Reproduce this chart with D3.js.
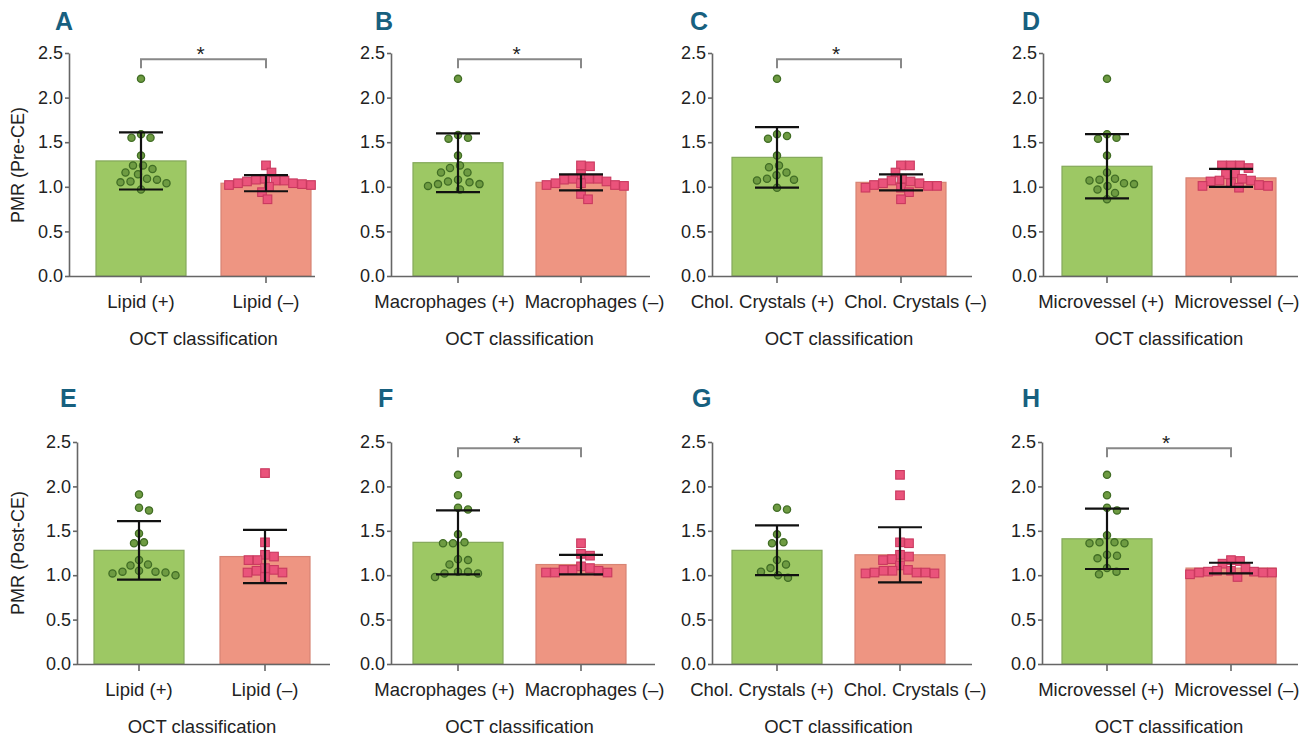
<!DOCTYPE html>
<html>
<head>
<meta charset="utf-8">
<script src="https://cdn.jsdelivr.net/npm/d3@7"></script>
<style>
  body { margin: 0; background: #fff; }
  svg { display: block; font-family: "Liberation Sans", Arial, Helvetica, sans-serif; }
</style>
</head>
<body>
<svg id="chart" width="1301" height="736"></svg>
<script>
// panel data, order A..H
var letters = ["A", "B", "C", "D", "E", "F", "G", "H"];
var groups = ["Lipid", "Macrophages", "Chol. Crystals", "Microvessel",
              "Lipid", "Macrophages", "Chol. Crystals", "Microvessel"];
var yTitles = ["PMR (Pre-CE)", "PMR (Post-CE)"];
var yTicks = [0, 0.5, 1.0, 1.5, 2.0, 2.5];
var signif = [true, true, true, false, false, true, false, true];

var meanPos = [1.29, 1.27, 1.33, 1.23, 1.28, 1.37, 1.28, 1.41];
var sdPos   = [0.32, 0.33, 0.34, 0.36, 0.33, 0.36, 0.28, 0.34];
var meanNeg = [1.04, 1.05, 1.05, 1.10, 1.21, 1.12, 1.23, 1.08];
var sdNeg   = [0.09, 0.09, 0.09, 0.10, 0.30, 0.11, 0.31, 0.06];

var ptsPos = [
  [2.21, 1.55, 1.55, 1.59, 1.35, 1.24, 1.20, 1.24, 1.16, 1.14, 1.08, 1.05, 1.04, 1.06, 1.09, 0.97],
  [2.21, 1.55, 1.54, 1.58, 1.35, 1.24, 1.16, 1.16, 1.21, 1.08, 1.05, 1.03, 0.97, 1.01, 1.03, 1.06],
  [2.21, 1.57, 1.54, 1.59, 1.35, 1.22, 1.24, 1.13, 1.16, 1.07, 0.99, 1.08, 1.09],
  [2.21, 1.59, 1.54, 1.55, 1.35, 1.16, 1.09, 1.07, 1.03, 1.01, 1.04, 1.08, 0.97, 0.93, 0.86],
  [1.91, 1.76, 1.73, 1.47, 1.36, 1.37, 1.17, 1.11, 1.12, 1.04, 1.03, 1.00, 1.02, 1.04, 1.05],
  [2.13, 1.90, 1.76, 1.74, 1.46, 1.37, 1.36, 1.36, 1.17, 1.12, 1.18, 1.04, 1.02, 0.98, 1.02, 1.04],
  [1.76, 1.74, 1.46, 1.36, 1.37, 1.17, 1.12, 1.08, 1.04, 0.97, 1.00],
  [2.13, 1.90, 1.76, 1.73, 1.45, 1.37, 1.36, 1.36, 1.37, 1.22, 1.19, 1.23, 1.08, 1.01, 1.04]
];
var ptsNeg = [
  [1.09, 1.08, 1.04, 1.02, 1.16, 1.24, 1.04, 1.02, 1.03, 1.06, 1.07, 1.07, 0.86, 0.94, 1.00],
  [1.14, 1.09, 1.08, 1.04, 1.23, 1.24, 1.02, 1.04, 1.02, 0.86, 0.92, 1.06, 1.09, 1.09, 1.01],
  [1.06, 1.04, 1.24, 1.24, 1.16, 1.01, 0.99, 0.99, 1.01, 0.86, 0.94, 1.04, 1.07, 1.09, 1.02],
  [1.24, 1.21, 1.24, 1.24, 1.15, 1.09, 1.07, 1.02, 1.01, 0.99, 1.01, 1.04, 1.06, 1.07, 1.14],
  [2.15, 1.37, 1.23, 1.17, 1.17, 1.21, 1.06, 1.03, 0.98, 1.03, 1.05, 1.08],
  [1.36, 1.22, 1.24, 1.08, 1.06, 1.03, 1.03, 1.03, 1.05, 1.06, 1.10],
  [2.13, 1.90, 1.36, 1.37, 1.23, 1.18, 1.17, 1.21, 1.11, 1.06, 1.03, 1.02, 1.02, 1.03, 1.03, 1.05, 1.05],
  [1.16, 1.17, 1.13, 1.05, 1.04, 1.03, 1.01, 0.98, 1.03, 1.03, 1.04, 1.05, 1.08]
];

// layout of each panel (y axis x, the two category centres, end of x axis)
var axisX   = [69, 391, 712, 1043, 77, 391, 712, 1042];
var cPos    = [141, 458, 777, 1107, 139, 458, 777, 1107];
var cNeg    = [266, 581, 901, 1231, 265, 581, 900, 1231];
var axisEnd = [315, 650, 972, 1298, 330, 655, 972, 1298];
var letterX = [55, 375, 690, 1022, 60, 378, 692, 1022];
var rowTop  = [53, 442];
var rowBase = [276, 664];

var svg = d3.select("#chart");

// simple beeswarm: place each point as close to the centre as it can go
function swarm(vals, y, cx, d) {
  var placed = [];
  var order = vals.map(function(v, i) { return {v: v, i: i}; })
    .sort(function(a, b) { return b.v - a.v; });
  order.forEach(function(p) {
    var py = y(p.v), off = 0;
    for (var k = 0; k < 400; k++) {
      off = Math.ceil(k / 2) * 0.5 * (k % 2 ? 1 : -1);
      var ok = placed.every(function(q) {
        var dx = q.x - (cx + off), dy = q.y - py;
        return dx * dx + dy * dy >= d * d;
      });
      if (ok) break;
    }
    placed.push({x: cx + off, y: py, v: p.v});
  });
  return placed;
}

letters.forEach(function(L, i) {
  var row = i < 4 ? 0 : 1;
  var y0 = rowBase[row];
  var step = cNeg[i] - cPos[i];
  var pad = 1 - 90 / step;
  var cats = [groups[i] + " (+)", groups[i] + " (\u2013)"];

  var x = d3.scaleBand()
    .domain(cats)
    .range([cPos[i] - step / 2, cNeg[i] + step / 2])
    .paddingInner(pad)
    .paddingOuter(pad / 2);
  var y = d3.scaleLinear().domain([0, 2.5]).range([y0, rowTop[row]]);

  var g = svg.append("g");

  // bars
  var bars = [
    {cat: cats[0], mean: meanPos[i], sd: sdPos[i], fill: "#9dc864", stroke: "#84a85a"},
    {cat: cats[1], mean: meanNeg[i], sd: sdNeg[i], fill: "#ee9582", stroke: "#d88474"}
  ];
  g.selectAll(".bar").data(bars).enter().append("rect")
    .attr("x", function(d) { return x(d.cat); })
    .attr("y", function(d) { return y(d.mean); })
    .attr("width", x.bandwidth())
    .attr("height", function(d) { return y0 - y(d.mean); })
    .attr("fill", function(d) { return d.fill; })
    .attr("stroke", function(d) { return d.stroke; })
    .attr("stroke-width", 1.2);

  // points
  var cx0 = x(cats[0]) + x.bandwidth() / 2, cx1 = x(cats[1]) + x.bandwidth() / 2;
  g.selectAll(".dot").data(swarm(ptsPos[i], y, cx0, 10)).enter().append("circle")
    .attr("cx", function(d) { return d.x; })
    .attr("cy", function(d) { return d.y; })
    .attr("r", 3.6)
    .attr("fill", "#6e9b42")
    .attr("stroke", "#416d25")
    .attr("stroke-width", 1.3);
  g.selectAll(".sq").data(swarm(ptsNeg[i], y, cx1, 8.8)).enter().append("rect")
    .attr("x", function(d) { return d.x - 4.3; })
    .attr("y", function(d) { return d.y - 4.3; })
    .attr("width", 8.6)
    .attr("height", 8.6)
    .attr("fill", "#ea537b")
    .attr("stroke", "#c9395f")
    .attr("stroke-width", 1.1);

  // error bars
  bars.forEach(function(b) {
    var cx = x(b.cat) + x.bandwidth() / 2;
    g.append("line").attr("x1", cx).attr("x2", cx)
      .attr("y1", y(b.mean + b.sd)).attr("y2", y(b.mean - b.sd));
    [b.mean + b.sd, b.mean - b.sd].forEach(function(v) {
      g.append("line").attr("x1", cx - 22).attr("x2", cx + 22)
        .attr("y1", y(v)).attr("y2", y(v));
    });
  });
  g.selectAll("line").attr("stroke", "#111").attr("stroke-width", 2.2);

  // axes
  var ya = g.append("g")
    .attr("transform", "translate(" + axisX[i] + ",0)")
    .call(d3.axisLeft(y).tickValues(yTicks).tickFormat(d3.format(".1f")).tickSize(4).tickPadding(2).tickSizeOuter(0));
  var xa = g.append("g")
    .attr("transform", "translate(0," + y0 + ")")
    .call(d3.axisBottom(x).tickSize(7).tickSizeOuter(0).tickFormat(""));
  xa.select(".domain").attr("d", "M" + axisX[i] + ",0.5H" + axisEnd[i]);
  [ya, xa].forEach(function(a) {
    a.select(".domain").attr("stroke", "#666").attr("stroke-width", 1.6);
    a.selectAll(".tick line").attr("stroke", "#666").attr("stroke-width", 1.6);
  });
  ya.selectAll(".tick text").attr("font-size", 18).attr("fill", "#222")
    .attr("font-family", "Liberation Sans, Arial, sans-serif");

  // category labels, pushed apart when they would collide
  var labs = cats.map(function(c) {
    return g.append("text")
      .attr("y", y0 + 32)
      .attr("text-anchor", "middle")
      .attr("font-size", 18.5)
      .attr("fill", "#222")
      .text(c);
  });
  var w0 = labs[0].node().getComputedTextLength(), w1 = labs[1].node().getComputedTextLength();
  var need = (w0 + w1) / 2 + 10, have = cx1 - cx0;
  var shift = Math.max(0, (need - have) / 2);
  var p1 = Math.min(cx1 + shift, 1300 - w1 / 2);
  var p0 = Math.min(cx0 - shift, p1 - need);
  labs[0].attr("x", p0);
  labs[1].attr("x", p1);

  g.append("text")
    .attr("x", (cx0 + cx1) / 2)
    .attr("y", y0 + 69)
    .attr("text-anchor", "middle")
    .attr("font-size", 18.5)
    .attr("fill", "#222")
    .text("OCT classification");

  // panel letter
  g.append("text")
    .attr("x", letterX[i])
    .attr("y", row === 0 ? 30 : 407)
    .attr("font-size", 25)
    .attr("font-weight", "bold")
    .attr("fill", "#17607f")
    .text(L);

  // y title only on first column
  if (i % 4 === 0) {
    g.append("text")
      .attr("transform", "translate(24," + (row === 0 ? 165 : 553) + ") rotate(-90)")
      .attr("text-anchor", "middle")
      .attr("font-size", 18)
      .attr("fill", "#222")
      .text(yTitles[row]);
  }

  // significance bracket
  if (signif[i]) {
    var by = y(2.43), drop = 9;
    g.append("path")
      .attr("d", "M" + cx0 + "," + (by + drop) + "V" + by + "H" + cx1 + "V" + (by + drop))
      .attr("fill", "none")
      .attr("stroke", "#888")
      .attr("stroke-width", 2);
    g.append("text")
      .attr("x", (cx0 + cx1) / 2 - 3)
      .attr("y", by + 2)
      .attr("text-anchor", "middle")
      .attr("font-size", 21)
      .attr("fill", "#222")
      .text("*");
  }
});
</script>
</body>
</html>
